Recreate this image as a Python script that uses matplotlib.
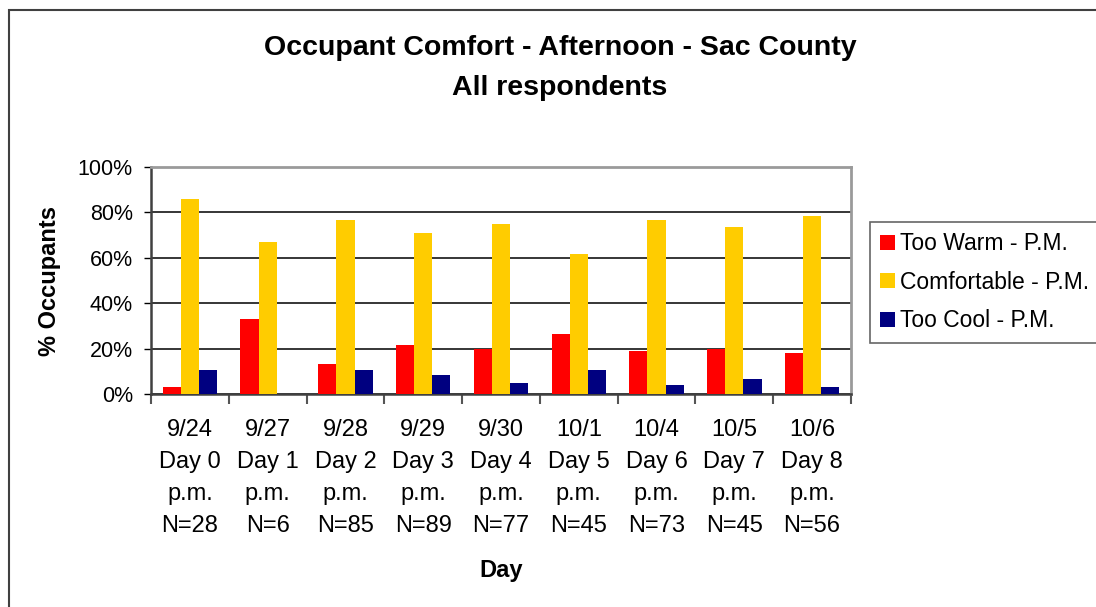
import matplotlib
matplotlib.use("Agg")
import matplotlib.pyplot as plt
import numpy as np
from matplotlib.patches import Rectangle

plt.rcParams['font.family'] = ['Liberation Sans', 'DejaVu Sans']

days = ["9/24", "9/27", "9/28", "9/29", "9/30", "10/1", "10/4", "10/5", "10/6"]
day_nums = ["Day 0", "Day 1", "Day 2", "Day 3", "Day 4", "Day 5", "Day 6", "Day 7", "Day 8"]
counts = [28, 6, 85, 89, 77, 45, 73, 45, 56]

too_warm = [3.1, 33.0, 13.2, 21.6, 19.9, 26.5, 19.0, 19.9, 18.1]
comfortable = [86.0, 67.0, 76.8, 71.0, 75.0, 61.8, 76.8, 73.7, 78.5]
too_cool = [10.6, 0.0, 10.6, 8.4, 4.9, 10.6, 4.0, 6.6, 3.1]

labels = [f"{d}\n{n}\np.m.\nN={c}" for d, n, c in zip(days, day_nums, counts)]

W, H = 1096, 607
fig = plt.figure(figsize=(W / 100, H / 100), dpi=100)
ax = fig.add_axes([151 / W, 1 - 394 / H, 700 / W, 227 / H])

x = np.arange(len(days))
bw = 0.233
ax.bar(x - bw, too_warm, bw, color="#FF0000", label="Too Warm - P.M.", zorder=3)
ax.bar(x, comfortable, bw, color="#FFCC00", label="Comfortable - P.M.", zorder=3)
ax.bar(x + bw, too_cool, bw, color="#000080", label="Too Cool - P.M.", zorder=3)

ax.set_xlim(-0.5, len(days) - 0.5)
ax.set_ylim(0, 100)
ax.set_yticks([0, 20, 40, 60, 80, 100])
ax.set_yticklabels([f"{v}%" for v in [0, 20, 40, 60, 80, 100]], fontsize=15.5)
ax.yaxis.grid(True, color="black", lw=1.1, zorder=1)
ax.tick_params(axis="y", direction="out", length=5, width=1, color="black", pad=8)

ax.set_xticks(x)
ax.set_xticklabels(labels, fontsize=17, linespacing=1.58)
ax.tick_params(axis="x", length=0, pad=18)
ax.set_xticks(np.arange(len(days) + 1) - 0.5, minor=True)
ax.tick_params(axis="x", which="minor", direction="out", length=7, width=1.5, color="#555555")

for s in ["top", "right"]:
    ax.spines[s].set_color("#9a9a9a")
    ax.spines[s].set_linewidth(2)
ax.spines["left"].set_color("#404040")
ax.spines["left"].set_linewidth(1.8)
ax.spines["bottom"].set_color("#404040")
ax.spines["bottom"].set_linewidth(1.8)

ax.set_ylabel("% Occupants", fontsize=17, fontweight="bold", labelpad=12)
ax.set_xlabel("Day", fontsize=17, fontweight="bold", labelpad=16)

fig.text(560 / W, 1 - 48 / H, "Occupant Comfort - Afternoon - Sac County", ha="center", va="center",
         fontsize=20.5, fontweight="bold")
fig.text(560 / W, 1 - 88 / H, "All respondents", ha="center", va="center",
         fontsize=20.5, fontweight="bold")

leg = fig.legend(loc="upper left", bbox_to_anchor=(870 / W, 1 - 222 / H), fontsize=16.5,
                 frameon=True, fancybox=False, edgecolor="#404040", handlelength=0.65,
                 handleheight=0.65, handletextpad=0.2, labelspacing=0.68, borderpad=0.45,
                 borderaxespad=0)
leg.get_frame().set_linewidth(1.2)

fig.patches.append(Rectangle((9 / W, -0.1), 1.2, 1 - 10 / H + 0.1, transform=fig.transFigure,
                             fill=False, edgecolor="#404040", lw=1.5))

fig.savefig("out.png", dpi=100)
